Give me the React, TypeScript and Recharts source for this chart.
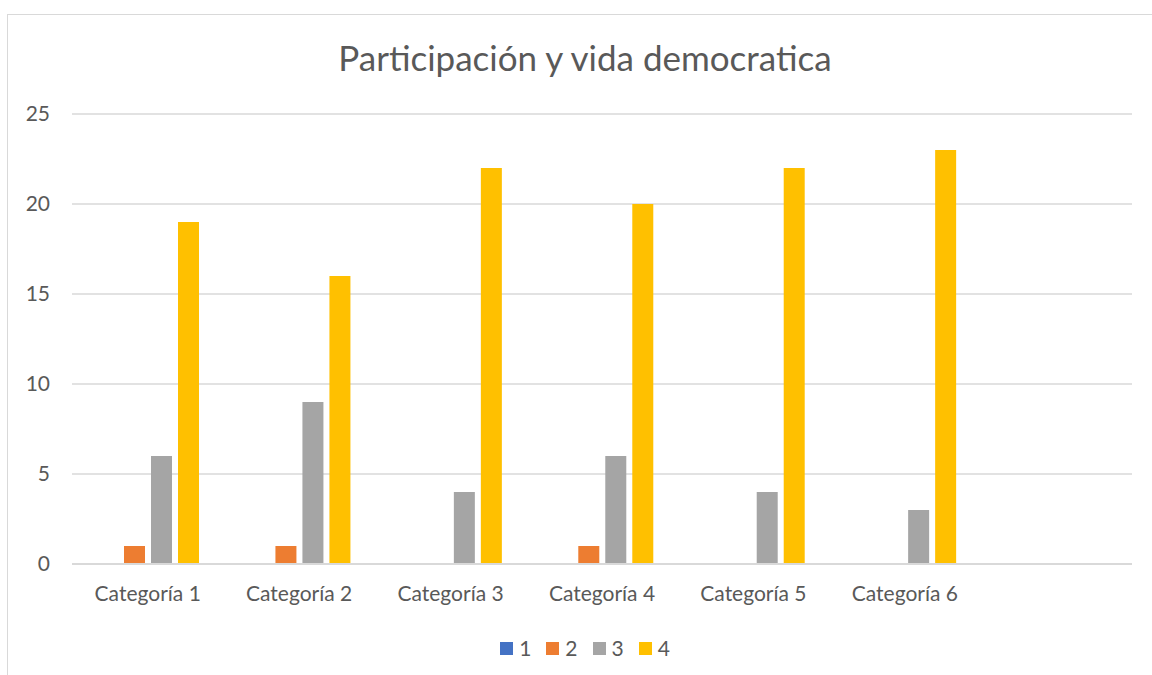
import { Bar, BarChart, CartesianGrid, Legend, XAxis, YAxis } from "recharts";

const categories = [
  "Categoría 1",
  "Categoría 2",
  "Categoría 3",
  "Categoría 4",
  "Categoría 5",
  "Categoría 6",
  "",
];
const serie1 = [0, 0, 0, 0, 0, 0, null];
const serie2 = [1, 1, 0, 1, 0, 0, null];
const serie3 = [6, 9, 4, 6, 4, 3, null];
const serie4 = [19, 16, 22, 20, 22, 23, null];
const yTicks = [0, 5, 10, 15, 20, 25];

const seriesNames = ["1", "2", "3", "4"];
const colors = ["#4472c4", "#ed7d31", "#a5a5a5", "#ffc000"];

const data = categories.map((c, i) => ({
  name: c,
  s1: serie1[i],
  s2: serie2[i],
  s3: serie3[i],
  s4: serie4[i],
}));

const font = "Lato, 'Open Sans', sans-serif";
const textColor = "#595959";

function LegendContent() {
  return (
    <div
      style={{
        display: "flex",
        justifyContent: "center",
        gap: 15,
        fontFamily: font,
        fontSize: 21,
        color: textColor,
        lineHeight: "24px",
      }}
    >
      {seriesNames.map((n, i) => (
        <div key={n} style={{ display: "flex", alignItems: "center", gap: 6 }}>
          <span
            style={{
              display: "inline-block",
              width: 13,
              height: 13,
              background: colors[i],
            }}
          />
          <span>{n}</span>
        </div>
      ))}
    </div>
  );
}

export default function App() {
  return (
    <div
      style={{
        position: "absolute",
        left: 0,
        top: 0,
        width: 1152,
        height: 675,
        background: "#fff",
        overflow: "hidden",
      }}
    >
      <div
        style={{
          position: "absolute",
          left: 7,
          top: 14,
          width: 1160,
          height: 680,
          border: "1px solid #d9d9d9",
        }}
      />
      <div
        style={{
          position: "absolute",
          left: 0,
          top: 36,
          width: 1170,
          textAlign: "center",
          fontFamily: font,
          fontSize: 35,
          color: textColor,
        }}
      >
        Participación y vida democratica
      </div>
      <div style={{ position: "absolute", left: 0, top: 0 }}>
        <BarChart
          width={1152}
          height={675}
          data={data}
          margin={{ top: 114, right: 20, left: 0, bottom: 0 }}
          barSize={21}
          barGap={6}
        >
          <CartesianGrid
            vertical={false}
            stroke="#d9d9d9"
            strokeWidth={1.5}
          />
          <XAxis
            dataKey="name"
            height={111}
            axisLine={{ stroke: "#d9d9d9", strokeWidth: 2 }}
            tickLine={false}
            tickSize={0}
            tickMargin={22}
            tick={{ fill: textColor, fontSize: 21, fontFamily: font }}
            interval={0}
          />
          <YAxis
            width={72}
            domain={[0, 25]}
            ticks={yTicks}
            axisLine={false}
            tickLine={false}
            tickSize={0}
            tickMargin={22}
            tick={{ fill: textColor, fontSize: 21, fontFamily: font }}
          />
          <Legend
            verticalAlign="middle"
            layout="horizontal"
            content={<LegendContent />}
            wrapperStyle={{ top: 636, left: 0, width: 1170 }}
          />
          <Bar dataKey="s1" name={seriesNames[0]} fill={colors[0]} isAnimationActive={false} />
          <Bar dataKey="s2" name={seriesNames[1]} fill={colors[1]} isAnimationActive={false} />
          <Bar dataKey="s3" name={seriesNames[2]} fill={colors[2]} isAnimationActive={false} />
          <Bar dataKey="s4" name={seriesNames[3]} fill={colors[3]} isAnimationActive={false} />
        </BarChart>
      </div>
    </div>
  );
}
